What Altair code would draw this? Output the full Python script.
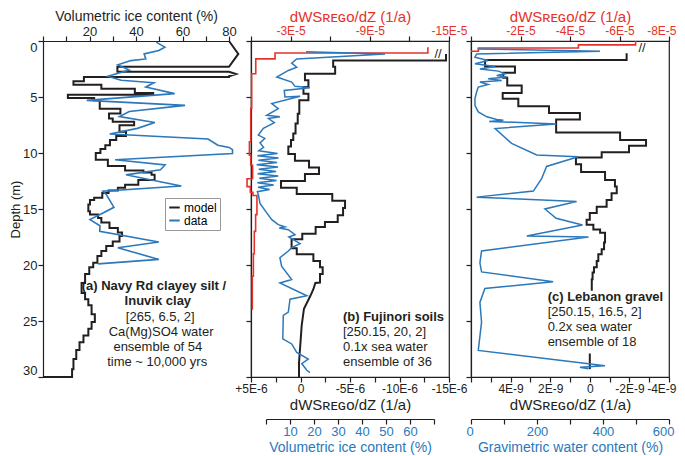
import altair as alt
import pandas as pd

FONT = "Liberation Sans"
BLACK = "#231f20"
BLUE = "#2b78bb"
RED = "#e5322b"
TITLE_RS = "dWS\u0280\u1d07\u0262\u1d0f/dZ (1/a)"

# ---------------- Panel (a): (value %, depth m) ----------------
a_model = [(80, 0), (84, 1.15), (80, 2.3), (32, 2.3), (32, 2.75), (80, 2.75), (83, 2.95), (80, 3.15),
           (80, 3.22), (17.6, 3.22), (17.6, 3.6), (13.1, 3.6), (13.1, 3.9), (25.1, 3.9), (25.1, 4.26),
           (39.5, 4.26), (39.5, 4.65), (47.4, 4.65), (47.4, 4.8), (10.7, 4.8), (10.7, 5.1), (22, 5.1),
           (22, 5.3), (24.4, 5.3), (24.4, 6.04), (33.3, 6.04), (33.3, 6.48), (28.4, 6.48), (28.4, 6.92),
           (30, 6.92), (30, 7.22), (39.2, 7.22), (39.2, 7.52), (32.9, 7.52), (32.9, 8.1), (35.7, 8.1),
           (35.7, 8.49), (31.5, 8.49), (31.5, 8.85), (28.8, 8.85), (28.8, 9.3), (26.8, 9.3), (26.8, 9.65),
           (24.7, 9.65), (24.7, 10.0), (22.7, 10.0), (22.7, 10.6), (27.9, 10.6), (27.9, 11.15),
           (35.3, 11.15), (35.3, 11.56), (43.2, 11.56), (43.2, 11.74), (46.7, 11.74), (46.7, 11.95),
           (48, 11.95), (48, 12.4), (41, 12.4), (41, 12.84), (35.3, 12.84), (35.3, 13.1), (32.2, 13.1),
           (32.2, 13.34), (28.2, 13.34), (28.2, 13.58), (25.5, 13.58), (25.5, 14.0), (22, 14.0),
           (22, 14.2), (20.2, 14.2), (20.2, 14.6), (19.5, 14.6), (19.5, 15.2), (20.2, 15.2), (20.2, 15.5),
           (23.7, 15.5), (23.7, 15.8), (25.1, 15.8), (25.1, 16.2), (28.6, 16.2), (28.6, 16.7),
           (32.2, 16.7), (32.2, 17.1), (34, 17.1), (34, 17.4), (32.9, 17.4), (32.9, 17.9), (30, 17.9),
           (30, 18.3), (27.2, 18.3), (27.2, 18.75), (25.1, 18.75), (25.1, 19.2), (23.4, 19.2),
           (23.4, 19.8), (21.6, 19.8), (21.6, 20.2), (19.9, 20.2), (19.9, 20.8), (18.1, 20.8),
           (18.1, 21.6), (16.6, 21.6), (16.6, 22.5), (18.1, 22.5), (18.1, 23.05), (19.5, 23.05),
           (19.5, 23.6), (20.9, 23.6), (20.9, 24.4), (22.3, 24.4), (22.3, 25.1), (20.9, 25.1),
           (20.9, 25.7), (19.5, 25.7), (19.5, 26.3), (17.4, 26.3), (17.4, 26.9), (15.7, 26.9),
           (15.7, 27.6), (14.3, 27.6), (14.3, 28.4), (13.1, 28.4), (13.1, 29.3), (12.5, 29.3),
           (12.5, 30), (0, 30)]
a_data = [(48.7, 0.1), (52.4, 0.55), (49.8, 0.85), (43.5, 1.15), (44.2, 1.6), (37.8, 1.75), (32.2, 2.13),
          (37.1, 2.6), (27.9, 3.15), (33.6, 3.5), (47.7, 3.73), (44.2, 4.1), (56.6, 4.7), (18.8, 5.3),
          (61.1, 5.75), (37.1, 6.3), (32.9, 6.75), (48.1, 7.28), (40.6, 7.8), (28.7, 8.3), (71, 8.75),
          (75.2, 9.3), (80.1, 9.5), (81.5, 9.7), (81.5, 10.05), (31, 10.6), (52.5, 11.07), (50.5, 11.5),
          (35.7, 11.95), (44, 12.3), (59.5, 12.95), (25.8, 13.4), (27.2, 13.7), (30.5, 14.85),
          (25.8, 15.35), (20.2, 15.95), (24.5, 16.5), (24.4, 17.0), (49.8, 17.95), (32.2, 18.46),
          (49.8, 19.5), (23.7, 19.9)]
a_text_bold = [(47.7, 21.86, "(a) Navy Rd clayey silt /"), (49.4, 23.2, "Inuvik clay")]
a_text_norm = [(50.4, 24.6, "[265, 6.5, 2]"), (50.8, 25.95, "Ca(Mg)SO4 water"),
               (49.4, 27.3, "ensemble of 54"), (49.1, 28.67, "time ~ 10,000 yrs")]

# ---------------- Panel (b) ----------------
# model dWS/dZ in units of 1E-6 1/a
b_model = [(-14.7, 1.15), (-14.7, 1.75), (-3.3, 1.75), (-3.3, 2.3), (-3.5, 2.3), (-3.5, 2.93), (-0.45, 2.93),
           (-0.45, 3.5), (-0.8, 3.5), (-0.8, 4.1), (-0.3, 4.1), (-0.3, 4.7), (-0.8, 4.7), (-0.8, 5.3),
           (0.12, 5.3), (0.12, 6.5), (0.28, 6.5), (0.28, 7.37), (0.5, 7.37), (0.5, 8.25), (0.73, 8.25),
           (0.73, 8.85), (0.96, 8.85), (0.96, 9.43), (1.23, 9.43), (1.23, 10.1), (0.56, 10.1), (0.56, 10.7),
           (-0.86, 10.7), (-0.86, 11.3), (-1.87, 11.3), (-1.87, 11.87), (-0.45, 11.87), (-0.45, 12.5),
           (1.97, 12.5), (1.97, 13.1), (0.38, 13.1), (0.38, 13.67), (-3.21, 13.67), (-3.21, 14.26),
           (-4.5, 14.26), (-4.5, 14.9), (-4.3, 14.9), (-4.3, 15.56), (-3.76, 15.56), (-3.76, 16.15),
           (-2.47, 16.15), (-2.47, 16.6), (-1.53, 16.6), (-1.53, 17.2), (-0.18, 17.2), (-0.18, 17.7),
           (0.9, 17.7), (0.9, 18.5), (0.38, 18.5), (0.38, 19.05), (-1.3, 19.05), (-1.3, 19.64),
           (-1.97, 19.64), (-1.97, 20.2), (-2.24, 20.2), (-2.24, 20.8), (-1.97, 20.8), (-1.97, 21.57),
           (-1.5, 21.6), (-1.3, 22.16), (-1.0, 22.75), (-0.35, 23.9), (-0.12, 25.4), (0, 26.9),
           (0.15, 28.7), (0.15, 30)]
# red dWS/dZ in units of 1E-5 1/a
b_red = [(-13.4, 0.55), (-13.4, 1.07), (-1.82, 1.07), (-1.82, 1.6), (-0.36, 1.6), (-0.36, 2.93), (-0.05, 2.93),
         (-0.05, 6.0), (0.02, 6.0), (0.02, 9.0), (0.12, 9.0), (0.12, 10.2), (0.02, 10.2), (0.02, 11.1),
         (-0.12, 11.1), (-0.12, 12.3), (0.3, 12.3), (0.3, 13.0), (0.05, 13.0), (0.05, 13.5), (-0.15, 13.5),
         (-0.15, 13.8), (-0.45, 13.8), (-0.45, 15.5), (-0.35, 15.5), (-0.35, 17.0), (-0.25, 17.0),
         (-0.25, 19.0), (-0.18, 19.0), (-0.18, 21.0), (-0.1, 21.0), (-0.1, 24.0)]
# blue: volumetric ice content (%)
b_data = [(16.7, 0.95), (49.6, 1.15), (12.8, 1.6), (10.7, 1.98), (12.8, 2.34), (9.3, 2.63), (4.5, 3.22),
          (10.7, 3.67), (12.1, 4.05), (18.3, 4.17), (7.6, 4.41), (7.9, 5.0), (14.2, 4.94), (2.4, 5.59),
          (5.1, 6.04), (0.3, 6.63), (5.8, 6.77), (1.0, 6.92), (3.5, 7.3), (-1.1, 7.8), (-3.2, 8.4),
          (-0.5, 8.7), (-2.5, 9.1), (-1.0, 9.5), (-3.0, 9.8), (4.8, 10.05), (-3.6, 10.25), (5.2, 10.45),
          (-3.2, 10.65), (4.6, 10.85), (-3.9, 11.05), (5.0, 11.25), (-3.0, 11.45), (4.2, 11.65),
          (-3.5, 11.85), (5.1, 12.05), (-2.8, 12.25), (4.4, 12.45), (-3.6, 12.65), (3.2, 12.85),
          (-3.3, 13.05), (1.5, 13.25), (-3.6, 13.45), (-3.2, 13.7), (-2.5, 14.5), (0.3, 15.35),
          (2.4, 15.95), (5.1, 16.4), (7.9, 16.6), (5.5, 16.7), (9.3, 16.85), (12.1, 17.3), (9.5, 17.5),
          (14.2, 18.1), (10.7, 18.45), (9.3, 18.75), (5.8, 19.35), (6.5, 20.1), (10.7, 21.3), (5.8, 21.6),
          (17, 22.75), (10, 23.05), (9.3, 24.2), (7.2, 24.5), (7, 26.6), (10.7, 27.05), (12.8, 27.8),
          (17.6, 28.4), (14.9, 28.8), (17, 29.4), (18.3, 29.6)]
b_text_bold = [(-4.29, 24.67, "(b) Fujinori soils")]
b_text_norm = [(-4.29, 26.0, "[250.15, 20, 2]"), (-4.29, 27.34, "0.1x sea water"),
               (-4.29, 28.67, "ensemble of 36")]
b_break = [(-13.9, 1.2, "//")]

# ---------------- Panel (c) ----------------
# model dWS/dZ in units of 1E-9 1/a (two visible pieces)
c_model = [(-1.86, 1.1), (-1.86, 1.69), (5.29, 1.69), (5.29, 2.28), (3.78, 2.28), (3.78, 2.84), (4.37, 2.84),
           (4.37, 3.28), (4.17, 3.28), (4.17, 3.97), (3.44, 3.97), (3.44, 4.64), (4.4, 4.64), (4.4, 5.15),
           (3.61, 5.15), (3.61, 5.83), (2.06, 5.83), (2.06, 6.42), (0.5, 6.42), (0.5, 7.01), (1.7, 7.01),
           (1.7, 8.17), (-1.53, 8.17), (-1.53, 8.85), (-2.84, 8.85), (-2.84, 9.35), (-1.98, 9.35),
           (-1.98, 9.94), (-0.6, 9.94), (-0.6, 10.4), (0.7, 10.4), (0.7, 11.0), (0.44, 11.0), (0.44, 11.7),
           (-0.77, 11.7), (-0.77, 12.4), (-1.27, 12.4), (-1.27, 13.0), (-1.36, 13.0), (-1.36, 13.6),
           (-1.1, 13.6), (-1.1, 14.2), (-0.85, 14.2), (-0.85, 14.8), (-0.35, 14.8), (-0.35, 15.35),
           (0, 15.35), (0, 15.95), (0.16, 15.95), (0.16, 16.4), (-0.18, 16.4), (-0.18, 16.84),
           (-0.52, 16.84), (-0.52, 17.13), (-0.77, 17.13), (-0.77, 18.0), (-0.72, 18.0), (-0.72, 18.6),
           (-0.6, 18.6), (-0.6, 19.05), (-0.43, 19.05), (-0.43, 19.64), (-0.35, 19.64), (-0.35, 20.2),
           (-0.21, 20.2), (-0.21, 20.68), (-0.14, 20.68), (-0.14, 21.27), (-0.1, 21.27), (-0.1, 22.3)]
c_model_tail = [(0, 27.9), (0, 29.3)]
# red dWS/dZ in units of 1E-5 1/a
c_red = [(-6.65, 0.0), (-6.65, 0.35), (-4.34, 0.35), (-4.34, 0.62), (-0.3, 0.62), (-0.3, 0.92), (0, 0.92)]
# blue: gravimetric water content (%)
c_data = [(20, 0.71), (391, 0.92), (17, 1.15), (12, 1.45), (52, 1.75), (12, 2.04), (73, 2.28), (27, 2.49),
          (83, 2.69), (103, 2.93), (78, 3.08), (108, 3.22), (52, 3.37), (93, 3.52), (27, 3.67), (52, 3.88),
          (22, 4.11), (17, 4.55), (12, 5.15), (12, 5.74), (22, 6.33), (48, 6.77), (78, 7.0), (98, 7.07),
          (55, 7.18), (258, 7.4), (73, 7.82), (123, 9.14), (199, 10.18), (325, 10.33), (229, 11.2),
          (214, 12.3), (189, 13.4), (17, 13.94), (320, 14.33), (224, 15.0), (258, 15.83), (338, 16.42),
          (169, 17.42), (356, 17.5), (32, 18.75), (27, 19.8), (32, 20.62), (249, 21.5), (42, 22.1),
          (27, 23.34), (32, 25.1), (22, 27.63), (406, 29.0), (330, 29.14), (356, 29.26)]
c_text_bold = [(2.13, 22.84, "(c) Lebanon gravel")]
c_text_norm = [(2.13, 24.23, "[250.15, 16.5, 2]"), (2.13, 25.56, "0.2x sea water"),
               (2.13, 26.89, "ensemble of 18")]
c_break = [(-2.64, 0.62, "//")]

depth_ticks = [0, 5, 10, 15, 20, 25, 30]


def path_df(pairs, series=None, seg=0):
    df = pd.DataFrame({"x": [p[0] for p in pairs], "depth": [p[1] for p in pairs],
                       "order": list(range(len(pairs)))})
    df["seg"] = seg
    if series is not None:
        df["series"] = series
    return df


def text_df(items):
    return pd.DataFrame({"x": [t[0] for t in items], "depth": [t[1] for t in items],
                         "label": [t[2] for t in items]})


H = 336
WA, WB, WC = 186, 198, 198
depth_scale = alt.Scale(domain=[0, 30], reverse=True, nice=False, zero=False)

# ---------- (a) ----------
xa = alt.X("x:Q", scale=alt.Scale(domain=[0, 80], nice=False, zero=False),
           axis=alt.Axis(orient="top", values=list(range(0, 81, 10)), labelOverlap=False, labelFlush=False,
                         labelExpr="datum.value >= 20 && datum.value % 20 == 0 ? datum.label : ''",
                         title="Volumetric ice content (%)", titleFontSize=14, labelFontSize=13,
                         titlePadding=2, labelPadding=-2))
ya = alt.Y("depth:Q", scale=depth_scale,
           axis=alt.Axis(values=depth_ticks, title="Depth (m)", labelFontSize=13, titleFontSize=13,
                         titlePadding=0, labelPadding=1, labelOverlap=False, labelFlush=True))
color_a = alt.Color("series:N", scale=alt.Scale(domain=["model", "data"], range=[BLACK, BLUE]),
                    legend=alt.Legend(title=None, orient="none", legendX=122, legendY=157,
                                      symbolType="stroke", symbolSize=110, symbolStrokeWidth=2,
                                      labelFontSize=12, labelFont=FONT, strokeColor="#999999",
                                      fillColor="white", padding=3, rowPadding=0, labelOffset=3))

a_model_l = alt.Chart(path_df(a_model, "model")).mark_line(strokeWidth=2).encode(
    x=xa, y=ya, color=color_a, order="order:Q")
a_data_l = alt.Chart(path_df(a_data, "data")).mark_line(strokeWidth=1.6).encode(
    x=xa, y=ya, color=color_a, order="order:Q")
a_tb = alt.Chart(text_df(a_text_bold)).mark_text(font=FONT, fontSize=13, fontWeight="bold",
                                                  color=BLACK, align="center", baseline="middle").encode(
    x=xa, y=ya, text="label:N")
a_tn = alt.Chart(text_df(a_text_norm)).mark_text(font=FONT, fontSize=13, color=BLACK,
                                                  align="center", baseline="middle").encode(
    x=xa, y=ya, text="label:N")
pa = alt.layer(a_model_l, a_data_l, a_tb, a_tn).properties(
    width=WA, height=H, view=alt.ViewBackground(stroke="transparent"))

# ---------- (b) ----------
y_plain = alt.Y("depth:Q", scale=depth_scale,
                axis=alt.Axis(values=depth_ticks, labels=False, title=None))
xb = alt.X("x:Q", scale=alt.Scale(domain=[-15, 5], reverse=True, nice=False, zero=False),
           axis=alt.Axis(orient="bottom", values=[5, 2.5, 0, -2.5, -5, -7.5, -10, -12.5, -15],
                         labelOverlap=False, labelFlush=False,
                         labelExpr="datum.value == 5 ? '+5E-6' : (datum.value == 0 ? '0' : "
                                   "(datum.value % 5 == 0 ? datum.value + 'E-6' : ''))",
                         title=TITLE_RS, titleFontSize=15, labelFontSize=12, labelPadding=1,
                         titlePadding=3))
xb_red = alt.X("x:Q", scale=alt.Scale(domain=[-15, 0], reverse=True, nice=False, zero=False),
               axis=alt.Axis(orient="top", values=[0, -3, -6, -9, -12, -15], labelOverlap=False,
                             labelFlush=False,
                             labelExpr="(datum.value == -3 || datum.value == -9 || datum.value == -15) ? "
                                       "datum.value + 'E-5' : ''",
                             title=TITLE_RS, titleFontSize=15, labelFontSize=12, labelColor=RED,
                             titleColor=RED, labelPadding=-1, titlePadding=0))
xb_blue = alt.X("x:Q", scale=alt.Scale(domain=[0, 70], range=[15, 183], nice=False, zero=False),
                axis=alt.Axis(orient="bottom", offset=42, values=list(range(0, 71, 10)), labelOverlap=False,
                              labelFlush=False,
                              labelExpr="(datum.value > 0 && datum.value < 70) ? datum.label : ''",
                              title="Volumetric ice content (%)", titleFontSize=14, labelFontSize=13,
                              labelColor=BLUE, titleColor=BLUE, labelPadding=1, titlePadding=2))

b_model_l = alt.Chart(path_df(b_model)).mark_line(color=BLACK, strokeWidth=2).encode(
    x=xb, y=y_plain, order="order:Q")
b_tb = alt.Chart(text_df(b_text_bold)).mark_text(font=FONT, fontSize=13, fontWeight="bold", color=BLACK,
                                                  align="left", baseline="middle").encode(
    x=xb, y=y_plain, text="label:N")
b_tn = alt.Chart(text_df(b_text_norm)).mark_text(font=FONT, fontSize=13, color=BLACK,
                                                  align="left", baseline="middle").encode(
    x=xb, y=y_plain, text="label:N")
b_br = alt.Chart(text_df(b_break)).mark_text(font=FONT, fontSize=13, color=BLACK,
                                              align="center", baseline="middle").encode(
    x=xb, y=y_plain, text="label:N")
b_inner = alt.layer(b_model_l, b_tb, b_tn, b_br)
b_red_l = alt.Chart(path_df(b_red)).mark_line(color=RED, strokeWidth=1.6).encode(
    x=xb_red, y=y_plain, order="order:Q")
b_blue_l = alt.Chart(path_df(b_data)).mark_line(color=BLUE, strokeWidth=1.5).encode(
    x=xb_blue, y=y_plain, order="order:Q")
pb = alt.layer(b_inner, b_red_l, b_blue_l).resolve_scale(x="independent").properties(width=WB, height=H)

# ---------- (c) ----------
xc = alt.X("x:Q", scale=alt.Scale(domain=[-4, 6], reverse=True, nice=False, zero=False),
           axis=alt.Axis(orient="bottom", values=list(range(-4, 7)), labelOverlap=False,
                         labelFlush=True, labelFlushOffset=7,
                         labelExpr="(datum.value % 2 == 0 && datum.value < 6) ? "
                                   "(datum.value == 0 ? '0' : datum.value + 'E-9') : ''",
                         title=TITLE_RS, titleFontSize=15, labelFontSize=12, labelPadding=1,
                         titlePadding=3))
xc_red = alt.X("x:Q", scale=alt.Scale(domain=[-8, 0], reverse=True, nice=False, zero=False),
               axis=alt.Axis(orient="top", values=[0, -2, -4, -6, -8], labelOverlap=False,
                             labelFlush=True, labelFlushOffset=7,
                             labelExpr="datum.value == 0 ? '' : datum.value + 'E-5'",
                             title=TITLE_RS, titleFontSize=15, labelFontSize=12, labelColor=RED,
                             titleColor=RED, labelPadding=-1, titlePadding=0))
xc_blue = alt.X("x:Q", scale=alt.Scale(domain=[0, 600], nice=False, zero=False),
                axis=alt.Axis(orient="bottom", offset=42, values=list(range(0, 601, 100)), labelOverlap=False,
                              labelFlush=True, labelFlushOffset=5,
                              labelExpr="datum.value % 200 == 0 ? datum.label : ''",
                              title="Gravimetric water content (%)", titleFontSize=14, labelFontSize=13,
                              labelColor=BLUE, titleColor=BLUE, labelPadding=1, titlePadding=2))

c_model_df = pd.concat([path_df(c_model, seg=0), path_df(c_model_tail, seg=1)], ignore_index=True)
c_model_l = alt.Chart(c_model_df).mark_line(color=BLACK, strokeWidth=2).encode(
    x=xc, y=y_plain, order="order:Q", detail="seg:N")
c_tb = alt.Chart(text_df(c_text_bold)).mark_text(font=FONT, fontSize=13, fontWeight="bold", color=BLACK,
                                                  align="left", baseline="middle").encode(
    x=xc, y=y_plain, text="label:N")
c_tn = alt.Chart(text_df(c_text_norm)).mark_text(font=FONT, fontSize=13, color=BLACK,
                                                  align="left", baseline="middle").encode(
    x=xc, y=y_plain, text="label:N")
c_br = alt.Chart(text_df(c_break)).mark_text(font=FONT, fontSize=13, color=BLACK,
                                              align="center", baseline="middle").encode(
    x=xc, y=y_plain, text="label:N")
c_inner = alt.layer(c_model_l, c_tb, c_tn, c_br)
c_red_l = alt.Chart(path_df(c_red)).mark_line(color=RED, strokeWidth=1.6).encode(
    x=xc_red, y=y_plain, order="order:Q")
c_blue_l = alt.Chart(path_df(c_data)).mark_line(color=BLUE, strokeWidth=1.5).encode(
    x=xc_blue, y=y_plain, order="order:Q")
pc = alt.layer(c_inner, c_red_l, c_blue_l).resolve_scale(x="independent").properties(width=WC, height=H)

chart = alt.hconcat(pa, pb, pc, spacing=22, bounds="flush").resolve_scale(
    color="independent").resolve_legend(color="independent").properties(
    padding={"left": 0, "top": 0, "right": 0, "bottom": 0}
).configure(font=FONT).configure_view(stroke=BLACK, strokeWidth=1.2).configure_axis(
    grid=False, domainColor=BLACK, tickColor=BLACK, labelColor=BLACK, titleColor=BLACK,
    domainWidth=1.2, tickWidth=1.2, tickSize=5, titleFontWeight="normal", labelFont=FONT,
    titleFont=FONT)

chart.save("out.html", embed_options={"renderer": "svg", "actions": False})
